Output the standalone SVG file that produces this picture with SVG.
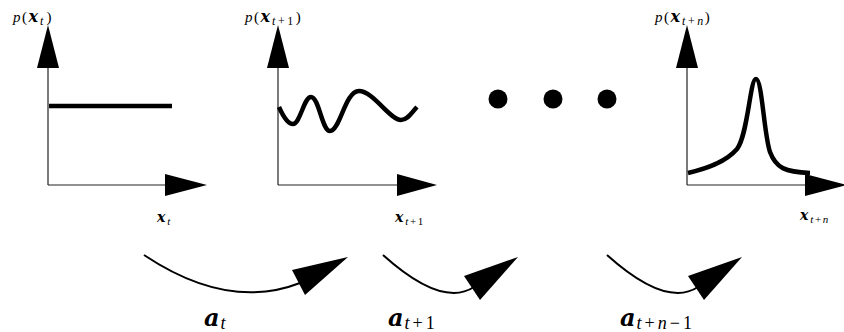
<svg xmlns="http://www.w3.org/2000/svg" width="844" height="332" viewBox="0 0 844 332">
<style>
  .axis { stroke: #222; stroke-width: 1.2; fill: none; }
  .head { fill: #000; stroke: none; }
  .curve { stroke: #000; stroke-width: 4.5; fill: none; stroke-linecap: butt; stroke-linejoin: round; }
  .conn { stroke: #000; stroke-width: 2; fill: none; }
  .rm { font-family: "Liberation Serif", "DejaVu Serif", serif; font-style: normal; }
  .it { font-family: "Liberation Serif", "DejaVu Serif", serif; font-style: italic; }
  .bi { font-family: "DejaVu Serif", "Liberation Serif", serif; font-style: italic; font-weight: bold; }
  .sub { font-family: "Liberation Serif", "DejaVu Serif", serif; font-style: italic; }
  .dot { fill: #000; }
</style>

<g id="plot1">
  <line class="axis" x1="48" y1="185" x2="48" y2="66"/>
  <polygon class="head" points="48,25 37,68 59,68"/>
  <line class="axis" x1="48" y1="185" x2="167" y2="185"/>
  <polygon class="head" points="207,185 165,174 165,196"/>
  <line class="curve" x1="49" y1="106" x2="172" y2="106"/>
  <text x="13" y="22" font-size="15" class="rm"><tspan class="it">p</tspan><tspan dx="1.5">(</tspan><tspan class="bi" font-size="16" dx="1.5">x</tspan><tspan class="sub" font-size="12" dy="3" dx="2" letter-spacing="2">t</tspan><tspan dy="-3" dx="1">)</tspan></text>
  <text x="157" y="222" class="rm"><tspan class="bi" font-size="14">x</tspan><tspan class="sub" font-size="11" dy="3" dx="2">t</tspan></text>
</g>

<g id="plot2">
  <line class="axis" x1="278" y1="185" x2="278" y2="66"/>
  <polygon class="head" points="278,25 267,68 289,68"/>
  <line class="axis" x1="278" y1="185" x2="399" y2="185"/>
  <polygon class="head" points="437,185 397,174 397,196"/>
  <path class="curve" d="M279,107 C283,116 288,124 293,124 C300,124 304,97 311,97 C319,97 322,131 330,131 C340,131 345,91 359,91 C373,91 390,120 401,120 C408,120 412,112 417,107"/>
  <text x="245" y="22" font-size="15" class="rm"><tspan class="it">p</tspan><tspan dx="1.5">(</tspan><tspan class="bi" font-size="16" dx="1.5">x</tspan><tspan class="sub" font-size="12" dy="3" dx="2" letter-spacing="2.5">t</tspan><tspan font-size="12" letter-spacing="2.5">+1</tspan><tspan dy="-3">)</tspan></text>
  <text x="395" y="222" class="rm"><tspan class="bi" font-size="14">x</tspan><tspan class="sub" font-size="11" dy="3" dx="2" letter-spacing="1.5">t</tspan><tspan font-size="11" letter-spacing="1.5">+1</tspan></text>
</g>

<g id="dots">
  <circle class="dot" cx="498" cy="99" r="9.5"/>
  <circle class="dot" cx="553" cy="99" r="9.5"/>
  <circle class="dot" cx="607" cy="99" r="9.5"/>
</g>

<g id="plot3">
  <line class="axis" x1="687" y1="185" x2="687" y2="66"/>
  <polygon class="head" points="687,25 676,68 698,68"/>
  <line class="axis" x1="687" y1="185" x2="807" y2="185"/>
  <polygon class="head" points="847,185 805,174 805,196"/>
  <path class="curve" d="M688,173 C705,169 725,163 737,149 C748,135 750,79 756,79 C762,79 764,135 770,152 C776,168 785,172 810,173"/>
  <text x="655" y="22" font-size="15" class="rm"><tspan class="it">p</tspan><tspan dx="1.5">(</tspan><tspan class="bi" font-size="16" dx="1.5">x</tspan><tspan class="sub" font-size="12" dy="3" dx="2" letter-spacing="2.5">t</tspan><tspan font-size="12" letter-spacing="2.5">+</tspan><tspan class="sub" font-size="12" letter-spacing="1.5">n</tspan><tspan dy="-3">)</tspan></text>
  <text x="800" y="220" class="rm"><tspan class="bi" font-size="14">x</tspan><tspan class="sub" font-size="11" dy="3" dx="2" letter-spacing="1.5">t</tspan><tspan font-size="11" letter-spacing="1.5">+</tspan><tspan class="sub" font-size="11">n</tspan></text>
</g>

<g id="connectors">
  <path class="conn" d="M144,255 Q228,311 300,283"/>
  <polygon class="head" points="348,257 292,270 305,295"/>
  <path class="conn" d="M383,255 Q442,308 474,287"/>
  <polygon class="head" points="518,257 464,276 480,300"/>
  <path class="conn" d="M607,255 Q666,308 698,287"/>
  <polygon class="head" points="742,257 688,276 704,300"/>
</g>

<g id="action-labels">
  <text x="204" y="326" class="rm"><tspan class="bi" font-size="24">a</tspan><tspan class="sub" font-size="18" dy="3" dx="1">t</tspan></text>
  <text x="388" y="326" class="rm"><tspan class="bi" font-size="24">a</tspan><tspan class="sub" font-size="18" dy="3" dx="1" letter-spacing="3">t</tspan><tspan font-size="18" letter-spacing="3">+1</tspan></text>
  <text x="620" y="326" class="rm"><tspan class="bi" font-size="24">a</tspan><tspan class="sub" font-size="18" dy="3" dx="1" letter-spacing="3">t</tspan><tspan font-size="18" letter-spacing="3">+</tspan><tspan class="sub" font-size="18" letter-spacing="3">n</tspan><tspan font-size="18" letter-spacing="3">−1</tspan></text>
</g>
</svg>
